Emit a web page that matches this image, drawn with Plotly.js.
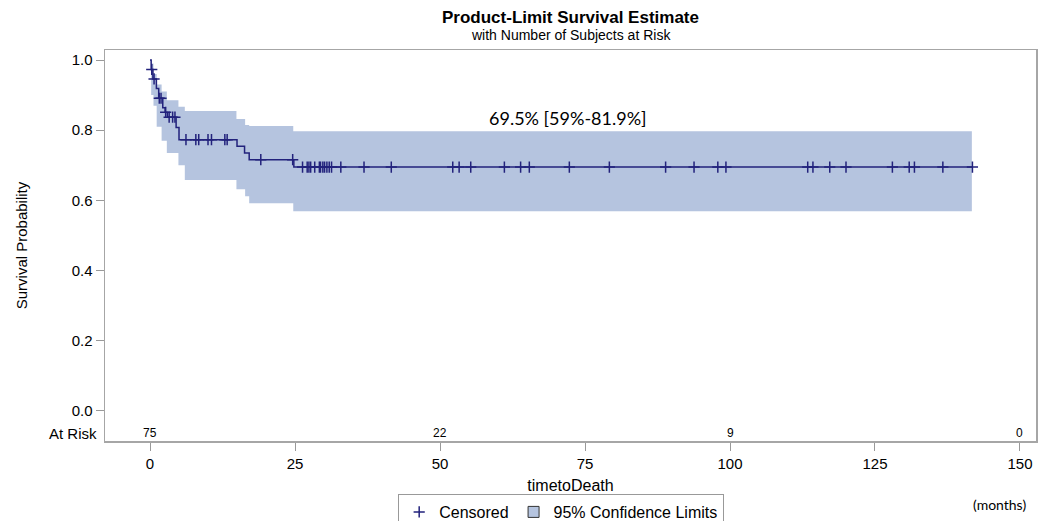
<!DOCTYPE html>
<html>
<head>
<meta charset="utf-8">
<script src="https://cdn.plot.ly/plotly-3.0.1.min.js"></script>
<style>html,body{margin:0;padding:0;background:#fff}#chart{width:1047px;height:521px}</style>
</head>
<body>
<div id="chart"></div>
<script>
// Kaplan-Meier step function (time of step, survival after step)
const stepTimes = [0, 0.2, 0.5, 1.1, 1.5, 2.2, 2.6, 3.0, 4.5, 5.0, 15.0, 16.3, 17.1, 24.8, 141.8];
const stepSurv  = [1.0, 0.973, 0.946, 0.919, 0.891, 0.864, 0.851, 0.837, 0.808, 0.773, 0.754, 0.735, 0.716, 0.695, 0.695];

// 95% confidence band (step starts)
const bandTimes = [0.2, 0.6, 1.15, 2.0, 2.9, 4.9, 6.0, 14.9, 16.4, 17.1, 24.7, 141.7];
const bandUpper = [0.99, 0.96, 0.93, 0.91, 0.885, 0.867, 0.855, 0.832, 0.815, 0.812, 0.797, 0.797];
const bandLower = [0.90, 0.87, 0.81, 0.77, 0.735, 0.70, 0.658, 0.632, 0.612, 0.592, 0.569, 0.569];

// censored observation times
const censoredTimes = [0.3, 0.7, 1.6, 1.9, 2.7, 3.3, 3.9, 4.3, 6.2, 7.9, 8.4, 10.0, 10.6, 12.9, 13.3, 19.1, 24.6,
  26.3, 27.1, 27.4, 27.7, 28.4, 29.2, 29.4, 29.8, 30.1, 30.5, 30.9, 31.3, 32.9, 36.9, 41.6,
  52.2, 53.3, 55.3, 61.1, 63.9, 65.4, 72.3, 79.2, 88.9, 93.8, 97.9, 99.3,
  113.4, 114.3, 117.2, 120.0, 128.0, 130.9, 131.8, 136.7, 141.8];

// number at risk
const riskTimes = [0, 50, 100, 150];
const riskCounts = [75, 22, 9, 0];

const xTicks = [0, 25, 50, 75, 100, 125, 150];
const yTicks = [0, 0.2, 0.4, 0.6, 0.8, 1.0];

const annotText = "69.5% [59%-81.9%]";

function survAt(t) {
  let s = stepSurv[0];
  for (let i = 0; i < stepTimes.length; i++) { if (stepTimes[i] <= t) s = stepSurv[i]; }
  return s;
}

const navy = '#22227c';
const bandColor = 'rgb(181,196,223)';
const font = 'Liberation Sans, Arial';
// plot area spans pixel rows 50..441
const py = p => (441 - p) / 391;

const traces = [
  {x: bandTimes, y: bandLower, type: 'scatter', mode: 'lines', line: {shape: 'hv', width: 0, color: bandColor},
   showlegend: false, hoverinfo: 'skip'},
  {x: bandTimes, y: bandUpper, type: 'scatter', mode: 'lines', line: {shape: 'hv', width: 0, color: bandColor},
   fill: 'tonexty', fillcolor: bandColor, showlegend: false},
  {x: stepTimes, y: stepSurv, type: 'scatter', mode: 'lines', line: {shape: 'hv', width: 1.5, color: navy},
   showlegend: false},
  {x: censoredTimes, y: censoredTimes.map(survAt), type: 'scatter', mode: 'markers', name: 'Censored',
   marker: {symbol: 'cross-thin', size: 8, line: {width: 1.5, color: navy}, color: navy}},
  // legend entry for the confidence band
  {x: [null], y: [null], type: 'scatter', mode: 'markers', name: '95% Confidence Limits',
   marker: {symbol: 'square', size: 11, color: bandColor, line: {width: 1, color: '#333'}}}
];

const annotations = [
  {xref: 'paper', yref: 'paper', x: 0.5, y: py(35), yanchor: 'middle', text: 'with Number of Subjects at Risk', showarrow: false,
   xanchor: 'center', font: {family: font, size: 14, color: '#000'}},
  {xref: 'x', yref: 'y', x: 72, y: 0.834, text: annotText, showarrow: false,
   font: {family: 'Lato, Noto Sans', size: 18, color: '#000'}},
  {xref: 'paper', yref: 'y', x: 0, xshift: -6, y: -0.063, text: 'At Risk', showarrow: false, xanchor: 'right',
   font: {family: font, size: 15, color: '#000'}},
  {xref: 'paper', yref: 'paper', x: 1.0, xanchor: 'right', xshift: -8, y: py(504), yanchor: 'middle', text: '(months)', showarrow: false,
   font: {family: 'Lato, Noto Sans', size: 14, color: '#000'}}
];
riskTimes.forEach((t, i) => {
  annotations.push({xref: 'x', yref: 'y', x: t, y: -0.063, text: String(riskCounts[i]), showarrow: false,
    font: {family: font, size: 12, color: '#000'}});
});

const layout = {
  width: 1047, height: 521,
  margin: {l: 105, r: 11, t: 50, b: 80, autoexpand: false},
  paper_bgcolor: '#fff', plot_bgcolor: '#fff',
  title: {text: '<b>Product-Limit Survival Estimate</b>', x: 0.5, xref: 'paper', xanchor: 'center', y: 1 - 17/521, yanchor: 'middle',
          font: {family: font, size: 17, color: '#000'}},
  xaxis: {range: [-7.76, 152.76], tickvals: xTicks, ticks: 'outside', ticklen: 8, tickcolor: '#999',
          showgrid: false, zeroline: false, showline: true, mirror: true, linecolor: '#a6a6a6', linewidth: 1.5,
          tickfont: {family: font, size: 15, color: '#000'}, automargin: false,
          title: {text: 'timetoDeath', font: {family: font, size: 16, color: '#000'}, standoff: 16}},
  yaxis: {range: [-0.0855, 1.0285], tickvals: yTicks, tickformat: '.1f', ticks: 'outside', ticklen: 8, tickcolor: '#999',
          showgrid: false, zeroline: false, showline: true, mirror: true, linecolor: '#a6a6a6', linewidth: 1.5,
          tickfont: {family: font, size: 15, color: '#000'}, automargin: false,
          title: {text: 'Survival Probability', font: {family: font, size: 15, color: '#000'}, standoff: 40}},
  legend: {orientation: 'h', x: 0.49, xanchor: 'center', yref: 'container', y: 1 - 494/521, yanchor: 'top',
           bordercolor: '#999', borderwidth: 1, traceorder: 'normal', tracegroupgap: 0,
           font: {family: font, size: 16, color: '#000'}, bgcolor: '#fff'},
  annotations: annotations,
  showlegend: true
};

Plotly.newPlot('chart', traces, layout, {displayModeBar: false, staticPlot: true});
</script>
</body>
</html>
